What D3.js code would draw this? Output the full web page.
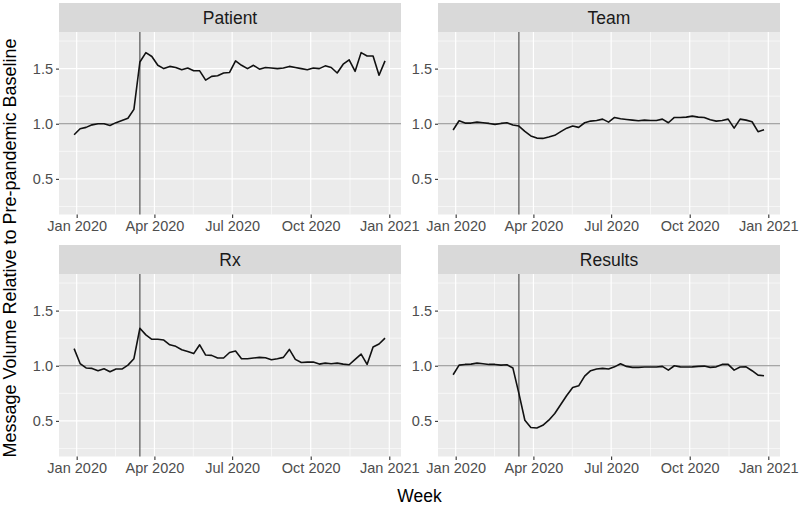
<!DOCTYPE html>
<html>
<head>
<meta charset="utf-8">
<script src="https://cdn.jsdelivr.net/npm/d3@7"></script>
<style>
  html, body { margin: 0; padding: 0; background: #ffffff; }
  svg { display: block; font-family: "Liberation Sans", Arial, sans-serif; }
</style>
</head>
<body>
<svg id="chart" width="800" height="506"></svg>
<script>
// ---------------- data ----------------
const panelNames = ["Patient", "Team", "Rx", "Results"];
const firstWeek = "2019-12-29";
const weekCount = 53;
const interventionDate = "2020-03-15";
const baselineValue = 1.0;

const patient = [0.90, 0.955, 0.967, 0.99, 1.0, 1.0, 0.985, 1.01, 1.03, 1.05,
  1.13, 1.56, 1.645, 1.61, 1.53, 1.50, 1.52, 1.51, 1.49, 1.505,
  1.48, 1.48, 1.395, 1.43, 1.435, 1.46, 1.465, 1.57, 1.53, 1.50,
  1.53, 1.495, 1.51, 1.505, 1.50, 1.505, 1.52, 1.51, 1.50, 1.49,
  1.505, 1.50, 1.525, 1.51, 1.46, 1.54, 1.58, 1.475, 1.645, 1.615,
  1.615, 1.44, 1.57];
const team = [0.943, 1.027, 1.006, 1.006, 1.015, 1.009, 1.003, 0.994, 1.003, 1.009,
  0.988, 0.979, 0.93, 0.89, 0.87, 0.867, 0.88, 0.895, 0.928, 0.96,
  0.98, 0.967, 1.009, 1.024, 1.03, 1.042, 1.015, 1.057, 1.045, 1.039,
  1.033, 1.027, 1.033, 1.03, 1.03, 1.042, 1.009, 1.057, 1.057, 1.06,
  1.069, 1.06, 1.057, 1.036, 1.024, 1.03, 1.042, 0.96, 1.042, 1.033,
  1.018, 0.928, 0.946];
const rx = [1.155, 1.02, 0.98, 0.976, 0.955, 0.973, 0.945, 0.97, 0.97, 1.006,
  1.064, 1.34, 1.28, 1.24, 1.24, 1.233, 1.19, 1.176, 1.145, 1.13,
  1.11, 1.19, 1.097, 1.094, 1.07, 1.07, 1.12, 1.133, 1.064, 1.064,
  1.07, 1.076, 1.073, 1.055, 1.064, 1.076, 1.148, 1.058, 1.03, 1.033,
  1.033, 1.015, 1.024, 1.018, 1.024, 1.015, 1.009, 1.058, 1.106, 1.012,
  1.17, 1.197, 1.25];
const results = [0.918, 1.006, 1.012, 1.015, 1.024, 1.018, 1.012, 1.012, 1.006, 1.009,
  0.979, 0.75, 0.506, 0.44, 0.436, 0.46, 0.506, 0.567, 0.648, 0.73,
  0.803, 0.818, 0.906, 0.955, 0.97, 0.976, 0.97, 0.99, 1.018, 0.994,
  0.985, 0.985, 0.988, 0.988, 0.988, 0.994, 0.96, 1.0, 0.99, 0.988,
  0.99, 0.994, 0.997, 0.985, 0.99, 1.012, 1.012, 0.96, 0.988, 0.99,
  0.955, 0.915, 0.909];
const seriesValues = [patient, team, rx, results];

const yTicks = [0.5, 1.0, 1.5];
const yMinor = [0.25, 0.75, 1.25, 1.75];
const xTickDates = ["2020-01-01", "2020-04-01", "2020-07-01", "2020-10-01", "2021-01-01"];
const xTickLabels = ["Jan 2020", "Apr 2020", "Jul 2020", "Oct 2020", "Jan 2021"];
const yTitle = "Message Volume Relative to Pre-pandemic Baseline";
const xTitle = "Week";

// ---------------- layout ----------------
const svg = d3.select("#chart");
const parse = d3.utcParse("%Y-%m-%d");
const weekDates = d3.range(weekCount).map(i => d3.utcDay.offset(parse(firstWeek), 7 * i));
const xMajor = xTickDates.map(parse);
const xMinorDates = d3.range(xMajor.length - 1).map(i => new Date((+xMajor[i] + +xMajor[i + 1]) / 2));

const cols = [{ x0: 59, x1: 401 }, { x0: 438, x1: 780 }];
const rows = [{ s0: 3, p0: 32, p1: 214.5 }, { s0: 245, p0: 274, p1: 456.5 }];

const dayMs = 86400000;
const xDomain = [new Date(+parse("2020-01-01") - 20.7 * dayMs), new Date(+parse("2021-01-01") + 13.7 * dayMs)];
const yDomain = [0.177, 1.832];

panelNames.forEach((name, k) => {
  const c = cols[k % 2], r = rows[Math.floor(k / 2)];
  const x = d3.scaleUtc().domain(xDomain).range([c.x0, c.x1]);
  const y = d3.scaleLinear().domain(yDomain).range([r.p1, r.p0]);
  const g = svg.append("g");

  // panel background
  g.append("rect").attr("x", c.x0).attr("y", r.p0).attr("width", c.x1 - c.x0).attr("height", r.p1 - r.p0)
    .attr("fill", "#EBEBEB");
  // strip
  g.append("rect").attr("x", c.x0).attr("y", r.s0).attr("width", c.x1 - c.x0).attr("height", r.p0 - r.s0)
    .attr("fill", "#D9D9D9");
  g.append("text").attr("x", (c.x0 + c.x1) / 2).attr("y", (r.s0 + r.p0) / 2 + 6)
    .attr("text-anchor", "middle").attr("font-size", 17.5).attr("fill", "#1A1A1A").text(name);

  // minor grid
  g.selectAll(".ymin").data(yMinor).enter().append("line")
    .attr("x1", c.x0).attr("x2", c.x1).attr("y1", d => y(d)).attr("y2", d => y(d))
    .attr("stroke", "#ffffff").attr("stroke-width", 0.6);
  g.selectAll(".xmin").data(xMinorDates).enter().append("line")
    .attr("y1", r.p0).attr("y2", r.p1).attr("x1", d => x(d)).attr("x2", d => x(d))
    .attr("stroke", "#ffffff").attr("stroke-width", 0.6);
  // major grid
  g.selectAll(".ymaj").data(yTicks).enter().append("line")
    .attr("x1", c.x0).attr("x2", c.x1).attr("y1", d => y(d)).attr("y2", d => y(d))
    .attr("stroke", "#ffffff").attr("stroke-width", 1.2);
  g.selectAll(".xmaj").data(xMajor).enter().append("line")
    .attr("y1", r.p0).attr("y2", r.p1).attr("x1", d => x(d)).attr("x2", d => x(d))
    .attr("stroke", "#ffffff").attr("stroke-width", 1.2);

  // reference lines
  g.append("line").attr("x1", c.x0).attr("x2", c.x1).attr("y1", y(baselineValue)).attr("y2", y(baselineValue))
    .attr("stroke", "#8A8A8A").attr("stroke-width", 1.2);
  const vx = x(parse(interventionDate));
  g.append("line").attr("x1", vx).attr("x2", vx).attr("y1", r.p0).attr("y2", r.p1)
    .attr("stroke", "#555555").attr("stroke-width", 1.2);

  // data line
  const pts = seriesValues[k].map((v, i) => [weekDates[i], v]);
  g.append("path").datum(pts)
    .attr("fill", "none").attr("stroke", "#111111").attr("stroke-width", 1.6).attr("stroke-linejoin", "round")
    .attr("d", d3.line().x(d => x(d[0])).y(d => y(d[1])));

  // x axis
  const xa = g.append("g").attr("transform", `translate(0,${r.p1})`)
    .call(d3.axisBottom(x).tickValues(xMajor).tickSize(3.5).tickPadding(3)
      .tickFormat((d, i) => xTickLabels[i]));
  xa.select(".domain").remove();
  xa.selectAll(".tick line").attr("stroke", "#333333").attr("stroke-width", 1.1);
  xa.selectAll(".tick text").attr("font-size", 14.5).attr("fill", "#4D4D4D")
    .attr("font-family", "Liberation Sans, Arial, sans-serif").attr("dy", "0.71em");

  // y axis
  const ya = g.append("g").attr("transform", `translate(${c.x0},0)`)
    .call(d3.axisLeft(y).tickValues(yTicks).tickSize(3).tickPadding(3).tickFormat(d3.format(".1f")));
  ya.select(".domain").remove();
  ya.selectAll(".tick line").attr("stroke", "#333333").attr("stroke-width", 1.1);
  ya.selectAll(".tick text").attr("font-size", 14.5).attr("fill", "#4D4D4D")
    .attr("font-family", "Liberation Sans, Arial, sans-serif");
});

// axis titles
svg.append("text").attr("x", (cols[0].x0 + cols[1].x1) / 2).attr("y", 501.5)
  .attr("text-anchor", "middle").attr("font-size", 17.5).attr("fill", "#000").text(xTitle);
svg.append("text").attr("transform", "translate(16,248) rotate(-90)")
  .attr("text-anchor", "middle").attr("font-size", 18).attr("fill", "#000").text(yTitle);
</script>
</body>
</html>
